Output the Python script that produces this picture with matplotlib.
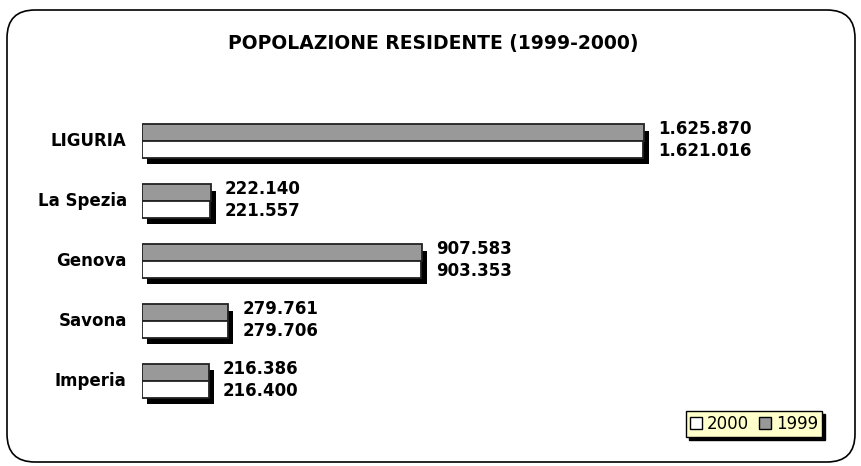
import matplotlib.pyplot as plt
from matplotlib.patches import FancyBboxPatch, Patch
import numpy as np

# dati
categories = ['LIGURIA', 'La Spezia', 'Genova', 'Savona', 'Imperia']
pop_1999 = [1625870, 222140, 907583, 279761, 216386]
pop_2000 = [1621016, 221557, 903353, 279706, 216400]
labels_1999 = ['1.625.870', '222.140', '907.583', '279.761', '216.386']
labels_2000 = ['1.621.016', '221.557', '903.353', '279.706', '216.400']

W, H = 861, 466
fig = plt.figure(figsize=(W / 100, H / 100), dpi=100)
fig.patch.set_facecolor('white')

# cornice arrotondata (in pollici)
frame = FancyBboxPatch((0.07, 0.04), 8.48, 4.52,
                       boxstyle='round,pad=0,rounding_size=0.28',
                       transform=fig.dpi_scale_trans, facecolor='white',
                       edgecolor='black', linewidth=1.2, zorder=-1)
fig.patches.append(frame)

fig.text(433 / W, 1 - 44 / H, 'POPOLAZIONE RESIDENTE (1999-2000)',
         ha='center', va='center', fontsize=13.5, fontweight='bold')

# assi: x 142..760 px, y 111..411 px
ax = fig.add_axes([142 / W, 1 - 411 / H, 618 / W, 300 / H])
ax.set_xlim(0, 618 / 3.088e-4)
ax.set_ylim(4.5, -0.5)
ax.axis('off')
ax.patch.set_alpha(0)

y = np.arange(len(categories))
h = 0.28
px_x = 1 / 3.088e-4
dx, dy = 5 * px_x, 6 / 60

# ombra
tops = np.maximum(pop_1999, pop_2000)
ax.barh(y + 0.005 + dy, tops, height=2 * h, left=dx, color='black', zorder=1)

ax.barh(y - h / 2, pop_1999, height=h, color='#999999', edgecolor='#222222',
        linewidth=1.3, zorder=2)
ax.barh(y + h / 2, pop_2000, height=h, color='white', edgecolor='#222222',
        linewidth=1.3, zorder=2)

for i in range(len(categories)):
    ax.annotate(labels_1999[i], (tops[i], y[i]), xytext=(10, 9),
                textcoords='offset points', ha='left', va='center',
                fontsize=12, fontweight='bold')
    ax.annotate(labels_2000[i], (tops[i], y[i]), xytext=(10, -7),
                textcoords='offset points', ha='left', va='center',
                fontsize=12, fontweight='bold')
    ax.annotate(categories[i], (0, y[i]), xytext=(-11, 0),
                textcoords='offset points', ha='right', va='center',
                fontsize=12, fontweight='bold')

handles = [Patch(facecolor='white', edgecolor='black'),
           Patch(facecolor='#999999', edgecolor='black')]
leg = fig.legend(handles, ['2000', '1999'], ncol=2, loc='upper right',
                 bbox_to_anchor=(822 / W, 1 - 411 / H), fontsize=12,
                 facecolor='#FFFFCC', edgecolor='black', framealpha=1,
                 fancybox=False, shadow={'color': 'black', 'alpha': 1},
                 handlelength=0.7, handleheight=0.7, handletextpad=0.3,
                 columnspacing=0.6, borderpad=0.25, borderaxespad=0)
leg.get_frame().set_linewidth(1.0)

fig.savefig('out.png', dpi=100)
